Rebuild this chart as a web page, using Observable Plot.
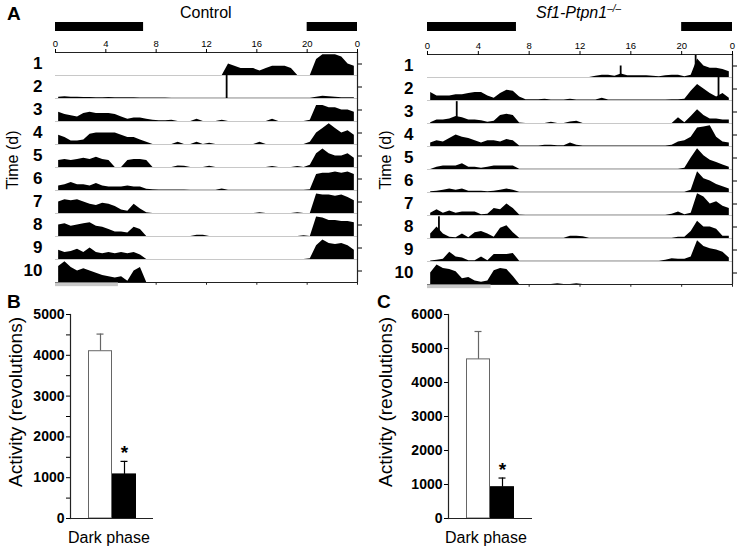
<!DOCTYPE html>
<html><head><meta charset="utf-8">
<script src="https://cdn.jsdelivr.net/npm/d3@7"></script>
<script src="https://cdn.jsdelivr.net/npm/@observablehq/plot@0.6"></script>
<style>
body{margin:0;background:#fff;}
#fig{position:relative;width:742px;height:550px;font-family:"Liberation Sans",Arial,Helvetica,sans-serif;color:#000;overflow:hidden;background:#fff}
.box{position:absolute;}
.lbl{position:absolute;white-space:nowrap;line-height:1}
.rot{transform:translate(-50%,-50%) rotate(-90deg);}
</style></head><body><div id="fig"></div>
<script>
// ---------- DATA ----------
// Actogram activity, half-hour bins (48 per day), height in tenths of a row
const BIN = 0.5;
const control = [
  [0,0,0,0,0,0,0,0,0,0, 0,0,0,0,0,0,0,0,0,0, 0,0,0,0,0,0,0,5,4,3, 3,3,2,3,4,4,4,3,0,0, 0,7,9,9,9,8,5,4],
  [0.5,0.8,0.5,0.5,0.4,0.4,0.3,0.3,0.4,0.3, 0.3,0.3,0.3,0.2,0.2,0.2,0.2,0.2,0.1,0.1, 0.1,0.1,0.1,0.1,0.1,0.1,0.1,0.1,0.1,0.1, 0.1,0.1,0.1,0.1,0.1,0.1,0.1,0.1,0.1,0.1, 0.1,0.5,1,0.8,0.5,0.3,0.3,0.3],
  [4,3,2.5,2,3.5,4,3.5,3.5,3.5,3, 2,1,1.5,1.5,1,0.5,0.3,0.3,0.5,0, 0,0,1,0,0,0,0.5,0,0,0, 0,0,0,0,1,0,0,0,0,0, 0.5,7,7,6,6,5,5,4],
  [4,3,1.5,1.5,2,4.5,5,5,5,5, 4,3,3,2,1,0,0,0,0,1, 0,0,1,0,0.5,0,0,0,0,0, 0,0,1,0,0,0,0,0,0,0, 1,5,7,9,7,5,6,4],
  [3,3.5,3,3.5,4,3.5,4.5,3.5,3,0, 0,3,3.5,3.5,3,0,0,0,0,0.7, 0.5,0,0,0,0.5,0,0,0,0,0, 0,0,0,0,0.4,0,0,0,0.4,0, 1,6,8,6,5,5,6,4],
  [2,2.5,3.5,2.5,2.5,2,3,2,1.5,1.5, 1.5,2,1.5,1.5,0.5,0.3,0.2,0.2,0.2,0.2, 0.2,0.1,0.1,0.1,0.1,0.1,0.6,0.1,0.1,0.1, 0.1,0.1,0.1,0.1,0.1,0.1,0.1,0.1,0.1,0.1, 0.3,7,7.5,7.5,8,7.5,8,7],
  [5,6,5.5,6,5,4,3.5,4.5,4,3, 1.5,1,4,2,0.3,0,0,0,0,0, 0,0,0,0,0,0,0,0,0,0, 0,0,0.3,0,0,0,0,0,0.3,0, 0,8.5,8,8,7.5,8,7,5.5],
  [5,5.5,4.5,5,5.5,6,4.5,4,3,2, 2,1.5,4,3,0,0,0,0,0,0, 0,0,0.5,0.5,0,0,0,0,0,0, 0,0,0,0,0,0,0,0,0,0.3, 0,8.5,8,7,7,6.5,6.5,6],
  [4,3,3.5,4.5,3,5,3,2.5,3,2.5, 3,2.5,3,2,0,0,0,0,0,0, 0,0,0,0,0,0,0,0,0,0, 0,0,0,0,0,0,0,0,0,0, 0.3,6,8.5,7,6.5,7,6,4],
  [7,9,6.5,5,6,5,4,3,2.5,2, 2.5,0.5,5,6.5,0,0,0,0,0,0, 0,0,0,0,0,0,0,0,0,0, 0,0,0,0,0,0,0,0,0,0, 0,0,0,0,0,0,0,0]
];
const knockout = [
  [0,0,0,0,0,0,0,0,0,0, 0,0,0,0,0,0,0,0,0,0, 0,0,0,0,0,0,0.5,1,1,0.5, 1.5,0.8,0.8,0.8,0.8,0.5,0.3,0.8,1,1, 0.3,1,8,5,4,4,3.5,2.5],
  [3.5,2,2,2,2.5,2.5,3,3.5,3.5,2, 1,3,4.5,4,1.5,0.3,0.3,0.3,0.5,0.2, 0.2,0.2,0.5,0.2,0.2,0.2,0.2,1,0.2,0.2, 0.2,0.2,0.2,0.2,0.2,0.2,0.2,0.2,0.3,0.3, 0.5,4,7,5,3,1.5,3,1],
  [0.3,1.5,1.5,2,3,2.5,1.5,1.5,1.2,0.5, 1,3.5,4,3.5,0.2,0,0,0,0,0.5, 0,0,0.6,1,0,0,0,0,0,0, 0,0,0,0,0,0,0,0,0,2.5, 0.3,3,6,3.5,2,2,1.5,1.5],
  [1.5,2.5,2,3.5,5,4,3.5,2.5,1.5,2.5, 2.5,2,3,2.5,0.2,0.2,0.2,0.2,0.5,0.5, 0.3,0.3,1.5,0.5,0.2,0.2,0.2,0.2,0.2,0.2, 0.2,0.2,0.2,0.2,0.2,0.2,0.2,0.2,0.5,2, 2.5,4,8,8.5,9,4,2,1.5],
  [0,1,1.5,1.5,1.5,2.5,1,1,0.5,1, 1.5,1.5,1.5,1.5,0.1,0.1,0.1,0.1,0.1,0.1, 0.1,0.1,0.1,0.1,0.1,0.1,0.1,0.1,0.1,0.1, 0.1,0.1,0.1,0.1,0.1,0.1,0.1,0.1,0.1,0.1, 0.5,5,9,6,4,3,2,1],
  [0.3,0.5,1,1.5,1,1.5,0.5,0.5,0.5,0.3, 0.5,1,1.5,1,0.1,0.1,0.1,0.1,0.1,0.1, 0.1,0.1,0.1,0.1,0.1,0.1,0.1,0.1,0.1,0.1, 0.1,0.1,0.1,0.1,0.1,0.1,0.1,0.1,0.1,0.1, 0.1,1,9,6,5,3.5,2.5,1.5],
  [1,2.5,1,2,1,1.5,1.5,1.5,0.3,0.5, 3,2.5,5,3,0.2,0.1,0.1,0.1,0.1,0.1, 0.1,0.1,0.1,0.1,0.1,0.1,0.1,0.1,0.1,0.1, 0.1,0.1,0.1,0.1,0.1,0.1,0.1,0.1,0.5,1.5, 0.3,1,9.5,8,5,6,4,3],
  [2,5,2,0.5,0.3,2,0.3,2.5,3,2, 0.5,4.5,5.5,2.5,0.1,0.1,0.1,0.1,0.1,0.1, 0.1,0.1,1,1,0.8,0.1,0.1,0.1,0.1,0.1, 0.1,0.1,0.1,0.1,0.1,0.1,0.1,0.1,0.1,0.5, 0.5,3,7.5,5,5,4,1,1],
  [0.2,0.5,1,4,2,1.5,0.3,0.3,2,0.3, 3,3,3,3.5,0.1,0.1,0.1,0.1,0.1,0.1, 0.1,0.1,0.1,0.1,0.1,0.1,0.1,0.1,0.1,0.1, 0.1,0.1,0.1,0.1,0.1,0.1,0.1,0.5,1.2,1, 1,2,9,6.5,5.5,5,4,1.5],
  [5,8.5,7,6.5,5.5,2.5,3,1.5,1,1.5, 6,7,6.5,3.5,0,0,0,0,0,0, 0.3,0,0,0.3,0,0,0,0,0,0, 0,0,0,0,0,0,0,0,0,0, 0,0,0,0,0,0,0,0]
];
// narrow, tall activity spikes: day, hour, height
const controlSpikes = [{day: 2, h: 13.6, v: 10}];
const knockoutSpikes = [
  {day: 1, h: 15.2, v: 5}, {day: 2, h: 22.9, v: 10}, {day: 3, h: 2.3, v: 9.5},
  {day: 8, h: 0.9, v: 9.5}, {day: 1, h: 21.1, v: 9.7}
];
const hourTicks = [0, 4, 8, 12, 16, 20, 24];
const darkBars = [{start: 0, end: 7}, {start: 20, end: 24}];
const bottomBar = [{start: 0, end: 5}];

// Dark-phase wheel activity (mean, SEM)
const groups = ["Control", "Sf1-Ptpn1-/-"];
const activityB = [4100, 1080];
const semB = [420, 320];
const activityC = [4680, 920];
const semC = [820, 270];
const significant = [false, true];
const ticksB = [0, 1000, 2000, 3000, 4000, 5000];
const minorB = [500, 1500, 2500, 3500, 4500];
const ticksC = [0, 1000, 2000, 3000, 4000, 5000, 6000];

// ---------- DRAW ----------
const fig = document.getElementById("fig");
const FONT = '"Liberation Sans", Arial, Helvetica, sans-serif';
const NARROW = '"Liberation Sans Narrow", "Liberation Sans", Arial, sans-serif';

function place(node, left, top) {
  const d = document.createElement("div");
  d.className = "box";
  d.style.left = left + "px";
  d.style.top = top + "px";
  d.appendChild(node);
  fig.appendChild(d);
}
function label(html, css) {
  const d = document.createElement("div");
  d.className = "lbl";
  d.innerHTML = html;
  Object.assign(d.style, css);
  fig.appendChild(d);
  return d;
}

function actogram(days, spikes, o) {
  const data = days.flatMap((vals, d) => vals.map((v, i) => ({day: d + 1, h: (i + 0.5) * BIN, v})));
  const ids = days.map((_, i) => i + 1);
  const last = ids[ids.length - 1];
  return Plot.plot({
    width: o.width, height: o.height,
    marginLeft: o.ml, marginRight: o.mr, marginTop: o.mt, marginBottom: o.mb,
    style: {fontFamily: FONT, background: "transparent", overflow: "visible"},
    x: {domain: [0, 24]},
    y: {domain: [0, 10], axis: null},
    fy: {domain: ids, padding: 0},
    marks: [
      Plot.ruleY([0], {stroke: "#c8c8c8", strokeWidth: 1}),
      Plot.areaY(data, {x: "h", y: "v", fy: "day", fill: "black", curve: "linear"}),
      Plot.ruleX(spikes, {x: "h", y1: 0, y2: "v", fy: "day", stroke: "black", strokeWidth: 1.8}),
      Plot.ruleY([10], {fy: [1], stroke: "#222", strokeWidth: 1.2}),
      Plot.ruleY([0], {fy: [last], stroke: "#222", strokeWidth: 1}),
      Plot.ruleX([24], {stroke: "#222", strokeWidth: 1.2}),
      Plot.ruleX(hourTicks, {x: d => d, y1: -1.2, y2: 0, fy: hourTicks.map(() => last), stroke: "#222"}),
      Plot.rect(bottomBar, {x1: "start", x2: "end", y1: () => -1.8, y2: () => -0.2, fy: bottomBar.map(() => last), fill: "#c8c8c8"}),
      Plot.axisX({anchor: "top", ticks: hourTicks, tickFormat: d => String(d % 24), tickSize: 4, tickPadding: 2, fontSize: 9.5, label: null}),
      Plot.axisFy({anchor: "left", tickSize: 0, tickPadding: o.lp, fontSize: 17, fontWeight: "bold", fontFamily: NARROW, label: null}),
      Plot.axisFy({anchor: "right", tickSize: 4, tickFormat: () => "", label: null})
    ]
  });
}
function ldBars(o) {
  return Plot.plot({
    width: o.width, height: 9,
    marginLeft: o.ml, marginRight: o.mr, marginTop: 0, marginBottom: 0,
    style: {background: "transparent"},
    x: {domain: [0, 24], axis: null},
    marks: [Plot.rect(darkBars, {x1: "start", x2: "end", fill: "black"})]
  });
}
function barPanel(values, sems, o) {
  const data = groups.map((g, i) => ({group: g, mean: values[i], sem: sems[i], hi: values[i] + sems[i], sig: significant[i],
    fill: i === 0 ? "white" : "black", edge: i === 0 ? "#666" : "black"}));
  const marks = [
    Plot.ruleX(data, {x: "group", y1: "mean", y2: "hi", stroke: "edge", strokeWidth: 1.2}),
    Plot.tickY(data, {x: "group", y: "hi", stroke: "edge", insetLeft: 8.5, insetRight: 8.5, strokeWidth: 1.2}),
    Plot.barY(data, {x: "group", y: "mean", fill: "fill", stroke: "edge", strokeWidth: 1, insetLeft: 0.5, insetRight: 0.5}),
    Plot.text(data.filter(d => d.sig), {x: "group", y: "hi", text: () => "*", dy: -8, fontSize: 19, fontWeight: "bold"}),
    Plot.ruleY([0], {stroke: "#222", strokeWidth: 1.2}),
    Plot.frame({anchor: "left", stroke: "#222", strokeWidth: 1.2}),
    Plot.axisY({ticks: o.ticks, tickFormat: d => String(d), tickSize: 4, tickPadding: 2, fontSize: 14, fontWeight: "bold", label: null})
  ];
  if (o.minor) marks.push(Plot.axisY({ticks: o.minor, tickSize: 4, tickFormat: () => "", label: null}));
  return Plot.plot({
    width: o.width, height: o.height,
    marginLeft: o.ml, marginRight: o.mr, marginTop: o.mt, marginBottom: o.mb,
    style: {fontFamily: FONT, background: "transparent", overflow: "visible"},
    x: {domain: groups, range: o.range, padding: 0, axis: null},
    y: {domain: [0, o.ymax]},
    color: {type: "identity"},
    marks
  });
}

// Panel A
place(ldBars({width: 370, ml: 55, mr: 13}), 0, 22);
place(actogram(control, controlSpikes, {width: 370, height: 295, ml: 55, mr: 13, mt: 52, mb: 13, lp: 13}), 0, 0);
place(ldBars({width: 372, ml: 57, mr: 10}), 370, 22);
place(actogram(knockout, knockoutSpikes, {width: 372, height: 295, ml: 57, mr: 10, mt: 52, mb: 10, lp: 14}), 370, 0);

// Panels B, C
place(barPanel(activityB, semB, {width: 160, height: 235, ml: 70, mr: 7, mt: 19, mb: 12, range: [88, 136], ymax: 5000, ticks: ticksB, minor: minorB}), 0, 295);
place(barPanel(activityC, semC, {width: 170, height: 235, ml: 78, mr: 8, mt: 19, mb: 12, range: [96, 144], ymax: 6000, ticks: ticksC}), 370, 295);

// Text
label("A", {left: "7px", top: "4px", fontSize: "19px", fontWeight: "bold"});
label("Control", {left: "180px", top: "4.5px", fontSize: "16px"});
label('<i>Sf1-Ptpn1</i><i style="font-size:10px;position:relative;top:-6px">–/–</i>', {left: "536px", top: "4.5px", fontSize: "16px"});
label("Time (d)", {left: "13px", top: "160px", fontSize: "16px"}).classList.add("rot");
label("Time (d)", {left: "386px", top: "160px", fontSize: "16px"}).classList.add("rot");
label("B", {left: "7px", top: "292px", fontSize: "19px", fontWeight: "bold"});
label("C", {left: "377px", top: "292px", fontSize: "19px", fontWeight: "bold"});
label("Activity (revolutions)", {left: "15px", top: "402px", fontSize: "19px"}).classList.add("rot");
label("Activity (revolutions)", {left: "385px", top: "402px", fontSize: "19px"}).classList.add("rot");
label("Dark phase", {left: "68px", top: "530px", fontSize: "16px"});
label("Dark phase", {left: "445px", top: "530px", fontSize: "16px"});
</script></body></html>
